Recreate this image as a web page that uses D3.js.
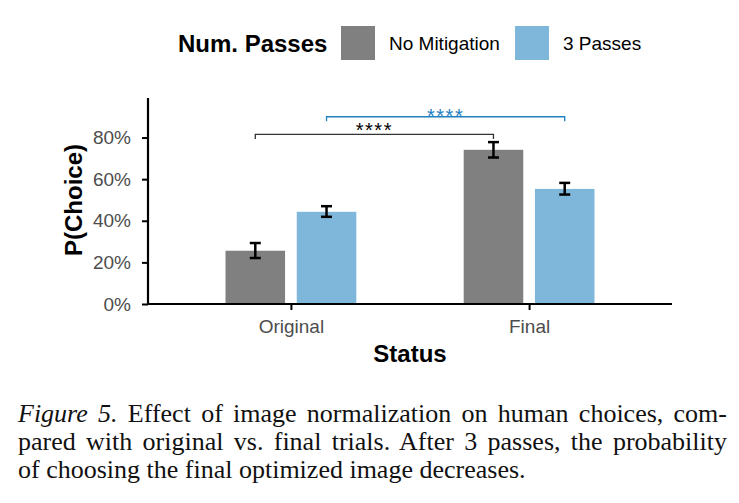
<!DOCTYPE html>
<html>
<head>
<meta charset="utf-8">
<script src="https://cdn.jsdelivr.net/npm/d3@7"></script>
<style>
  body { margin: 0; background: #fff; }
  svg { display: block; }
</style>
</head>
<body>
<div id="chart"></div>
<script>
// data
var categories = ['Original', 'Final'];
var series = ['No Mitigation', '3 Passes'];
var seriesColors = ['#808080', '#7fb7da'];
var noMitigation = [0.256, 0.741];
var noMitigationLo = [0.221, 0.704];
var noMitigationHi = [0.293, 0.778];
var threePasses = [0.443, 0.553];
var threePassesLo = [0.419, 0.526];
var threePassesHi = [0.470, 0.582];
var yTicks = [0, 0.2, 0.4, 0.6, 0.8];
// significance brackets between the two statuses, one per series
var brackets = [
  { series: 0, level: 0.815, label: '****', color: '#333333', textColor: '#000', dy: 3 },
  { series: 1, level: 0.9, label: '****', color: '#1f80c2', textColor: '#1f80c2', dy: 6 }
];
var captionLines = [
  ['Figure 5.', 'Effect of image normalization on human choices, com-'],
  ['', 'pared with original vs. final trials. After 3 passes, the probability'],
  ['', 'of choosing the final optimized image decreases.']
];

var W = 739, H = 503;
var margin = { top: 98, right: 67, bottom: 199, left: 148 };
var w = W - margin.left - margin.right,
  h = H - margin.top - margin.bottom;

var svg = d3.select('#chart')
  .append('svg')
  .attr('width', W)
  .attr('height', H);

var font = 'Liberation Sans, Arial, Helvetica, sans-serif';

var g = svg.append('g')
  .attr('transform', 'translate(' + margin.left + ',' + margin.top + ')');

// scales
var x = d3.scalePoint()
  .domain(categories)
  .range([0, w])
  .padding(0.6);

var xs = d3.scaleBand()
  .domain(series)
  .range([-65.4, 65.4])
  .paddingInner(0.164);

var y = d3.scaleLinear()
  .domain([0, 0.99])
  .range([h, 0]);

var rows = [];
categories.forEach(function (c, i) {
  rows.push({ cat: c, s: 0, v: noMitigation[i], lo: noMitigationLo[i], hi: noMitigationHi[i] });
  rows.push({ cat: c, s: 1, v: threePasses[i], lo: threePassesLo[i], hi: threePassesHi[i] });
});

// bars
g.selectAll('.bar')
  .data(rows)
  .enter()
  .append('rect')
  .attr('class', 'bar')
  .attr('x', function (d) { return x(d.cat) + xs(series[d.s]); })
  .attr('y', function (d) { return y(d.v); })
  .attr('width', xs.bandwidth())
  .attr('height', function (d) { return h - y(d.v); })
  .attr('fill', function (d) { return seriesColors[d.s]; });

// error bars
var eb = g.selectAll('.err')
  .data(rows)
  .enter()
  .append('g')
  .attr('class', 'err')
  .attr('stroke', '#000')
  .attr('stroke-width', 2.5);

function cx(d) { return x(d.cat) + xs(series[d.s]) + xs.bandwidth() / 2; }

eb.append('line')
  .attr('x1', cx).attr('x2', cx)
  .attr('y1', function (d) { return y(d.lo); })
  .attr('y2', function (d) { return y(d.hi); });
eb.append('line')
  .attr('x1', function (d) { return cx(d) - 5.5; })
  .attr('x2', function (d) { return cx(d) + 5.5; })
  .attr('y1', function (d) { return y(d.lo); })
  .attr('y2', function (d) { return y(d.lo); });
eb.append('line')
  .attr('x1', function (d) { return cx(d) - 5.5; })
  .attr('x2', function (d) { return cx(d) + 5.5; })
  .attr('y1', function (d) { return y(d.hi); })
  .attr('y2', function (d) { return y(d.hi); });

// brackets
brackets.forEach(function (b) {
  var x1 = x(categories[0]) + xs(series[b.series]) + xs.bandwidth() / 2,
    x2 = x(categories[1]) + xs(series[b.series]) + xs.bandwidth() / 2,
    yy = y(b.level);
  g.append('path')
    .attr('d', 'M' + x1 + ',' + (yy + 4.5) + 'V' + yy + 'H' + x2 + 'V' + (yy + 4.5))
    .attr('fill', 'none')
    .attr('stroke', b.color)
    .attr('stroke-width', 1.3);
  g.append('text')
    .attr('x', (x1 + x2) / 2)
    .attr('y', yy + b.dy)
    .attr('text-anchor', 'middle')
    .attr('font-family', font)
    .attr('font-size', 20)
    .attr('letter-spacing', 1.5)
    .attr('fill', b.textColor)
    .text(b.label);
});

// y axis
var yAxis = g.append('g')
  .attr('class', 'axis axis--y')
  .call(d3.axisLeft(y)
    .tickValues(yTicks)
    .tickSize(6)
    .tickPadding(11)
    .tickFormat(d3.format('.0%')));
yAxis.select('.domain').attr('stroke', '#000').attr('stroke-width', 2.2)
  .attr('d', 'M0,0V' + h);
yAxis.selectAll('.tick line').attr('stroke', '#000').attr('stroke-width', 2);
yAxis.selectAll('.tick text')
  .attr('font-family', font)
  .attr('font-size', 19)
  .attr('fill', '#4d4d4d');

// x axis
var xAxis = g.append('g')
  .attr('class', 'axis axis--x')
  .attr('transform', 'translate(0,' + h + ')')
  .call(d3.axisBottom(x).tickSize(6).tickPadding(10));
xAxis.select('.domain').attr('stroke', '#000').attr('stroke-width', 2.2)
  .attr('d', 'M0,0H' + w);
xAxis.selectAll('.tick line').attr('stroke', '#000').attr('stroke-width', 2);
xAxis.selectAll('.tick text')
  .attr('font-family', font)
  .attr('font-size', 19)
  .attr('fill', '#4d4d4d');

// axis titles
svg.append('text')
  .attr('x', 410)
  .attr('y', 362)
  .attr('text-anchor', 'middle')
  .attr('font-family', font)
  .attr('font-weight', 'bold')
  .attr('font-size', 24)
  .text('Status');

svg.append('text')
  .attr('transform', 'translate(82,200) rotate(-90)')
  .attr('text-anchor', 'middle')
  .attr('font-family', font)
  .attr('font-weight', 'bold')
  .attr('font-size', 24)
  .text('P(Choice)');

// legend
var legend = svg.append('g');
legend.append('text')
  .attr('x', 178)
  .attr('y', 52)
  .attr('font-family', font)
  .attr('font-weight', 'bold')
  .attr('font-size', 24)
  .text('Num. Passes');
var legendX = [341, 515];
series.forEach(function (s, i) {
  legend.append('rect')
    .attr('x', legendX[i])
    .attr('y', 26)
    .attr('width', 34)
    .attr('height', 34)
    .attr('fill', seriesColors[i]);
  legend.append('text')
    .attr('x', legendX[i] + 48)
    .attr('y', 50)
    .attr('font-family', font)
    .attr('font-size', 19)
    .text(s);
});

// caption
var capX = 18, capRight = 727;
var baselines = [422, 450, 478];
captionLines.forEach(function (ln, i) {
  var t = svg.append('text')
    .attr('x', capX)
    .attr('y', baselines[i])
    .attr('font-family', 'Liberation Serif, Times New Roman, serif')
    .attr('font-size', 26)
    .attr('fill', '#111');
  if (ln[0]) {
    t.append('tspan').attr('font-style', 'italic').text(ln[0]);
    t.append('tspan').text(' ' + ln[1]);
  } else {
    t.append('tspan').text(ln[1]);
  }
  // justify all but last line
  if (i < captionLines.length - 1) {
    var full = (ln[0] ? ln[0] + ' ' : '') + ln[1];
    var spaces = full.split(' ').length - 1;
    var len = t.node().getComputedTextLength();
    var extra = (capRight - capX - len) / spaces;
    t.attr('word-spacing', extra);
  }
});
</script>
</body>
</html>
